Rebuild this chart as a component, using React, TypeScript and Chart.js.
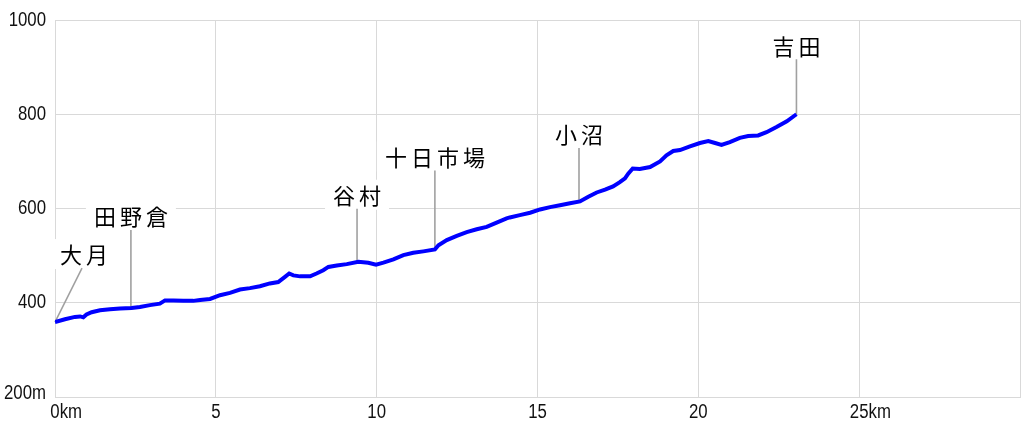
import React, { useEffect, useRef } from "react";
import { Chart, registerables } from "chart.js";

Chart.register(...registerables);

// Distance along route (km) and elevation (m)
const DIST_KM = [
  0, 0.31, 0.62, 0.78, 0.88, 0.98, 1.14, 1.4, 1.71, 2.02, 2.38, 2.64, 2.95, 3.26, 3.42, 3.68, 3.99, 4.3,
  4.51, 4.82, 5.13, 5.44, 5.75, 6.06, 6.37, 6.68, 6.94, 7.15, 7.28, 7.41, 7.62, 7.93, 8.13, 8.34, 8.5,
  8.76, 9.07, 9.43, 9.74, 9.98, 10.21, 10.52, 10.83, 11.14, 11.45, 11.81, 11.92, 12.18, 12.49, 12.8,
  13.11, 13.42, 13.73, 14.04, 14.14, 14.45, 14.77, 15.08, 15.39, 15.7, 16.01, 16.32, 16.58, 16.84,
  17.1, 17.35, 17.56, 17.72, 17.82, 17.96, 18.18, 18.5, 18.81, 19.01, 19.22, 19.43, 19.74, 20.05,
  20.31, 20.52, 20.72, 20.98, 21.29, 21.55, 21.86, 22.12, 22.43, 22.75, 23.05,
];
const ELEV_M = [
  359, 365, 370, 371, 369, 375, 380, 384, 386, 388, 389, 391, 395, 398, 405, 405, 404, 404,
  406, 408, 416, 421, 428, 431, 435, 441, 444, 455, 462, 458, 456, 456, 462, 469, 476,
  479, 482, 487, 485, 481, 485, 492, 501, 506, 509, 513, 522, 533, 542, 550,
  556, 561, 570, 579, 581, 586, 591, 598, 603, 607, 611, 615, 625, 634,
  640, 647, 656, 664, 674, 685, 684, 688, 700, 713, 722, 724, 732, 739,
  743, 739, 735, 741, 750, 754, 755, 762, 773, 785, 800,
];

// Station labels
const STATION_NAMES = ["大月", "田野倉", "谷村", "十日市場", "小沼", "吉田"];
const STATION_KM = [0, 2.36, 9.39, 11.81, 16.29, 23.05];
const STATION_ELEV = [359, 389, 487, 513, 616, 800];

// Axis ticks
const X_TICKS = [0, 5, 10, 15, 20, 25];
const X_TICK_LABELS = ["0", "5", "10", "15", "20", "25"];
const X_TICK_UNITS = ["km", "", "", "", "", "km"];
const Y_TICKS = [200, 400, 600, 800, 1000];
const Y_TICK_LABELS = ["200m", "400", "600", "800", "1000"];

// Leader line offsets (px) for each station label (style, not data)
const LEADER_DX = [27, 0, 0, 0, 0, 0];
const LEADER_DY = [-54, -78, -53, -79, -53, -55];

const GRID = "#d9d9d9";
const TICK_FONT = '20px "Liberation Sans", "DejaVu Sans", sans-serif';
const TICK_SQUEEZE = 0.84;
const LABEL_FONT = '22px "Noto Sans CJK JP", sans-serif';

function squeezedText(ctx: CanvasRenderingContext2D, text: string, x: number, y: number) {
  ctx.save();
  ctx.translate(x, y);
  ctx.scale(TICK_SQUEEZE, 1);
  ctx.fillText(text, 0, 0);
  ctx.restore();
}

export default function App() {
  const ref = useRef<HTMLCanvasElement | null>(null);

  useEffect(() => {
    const canvas = ref.current;
    if (!canvas) return;

    const overlay = {
      id: "overlay",
      beforeDatasetsDraw(chart: any) {
        const ctx = chart.ctx as CanvasRenderingContext2D;
        const xs = chart.scales.x;
        const ys = chart.scales.y;
        ctx.save();
        const pitch = 26;
        for (let i = 0; i < STATION_NAMES.length; i++) {
          const px = xs.getPixelForValue(STATION_KM[i]);
          const py = ys.getPixelForValue(STATION_ELEV[i]);
          const tx = px + LEADER_DX[i];
          const ty = py + LEADER_DY[i];
          const name = STATION_NAMES[i];
          const n = name.length;
          const cx = tx + (i === 0 ? 2 : 0);
          const cy = ty - 14;
          const w = (n - 1) * pitch + 22;
          ctx.fillStyle = "#ffffff";
          ctx.fillRect(cx - w / 2 - 8, cy - 15, w + 16, 30);
          ctx.strokeStyle = "#a0a0a0";
          ctx.lineWidth = 1.6;
          ctx.beginPath();
          ctx.moveTo(px, py);
          ctx.lineTo(tx, ty);
          ctx.stroke();
          ctx.font = LABEL_FONT;
          ctx.fillStyle = "#000";
          ctx.textAlign = "center";
          ctx.textBaseline = "middle";
          const start = cx - ((n - 1) * pitch) / 2;
          for (let k = 0; k < n; k++) {
            ctx.fillText(name[k], start + k * pitch, cy + 1);
          }
        }
        ctx.restore();
      },
      afterDraw(chart: any) {
        const ctx = chart.ctx as CanvasRenderingContext2D;
        const xs = chart.scales.x;
        const ys = chart.scales.y;
        ctx.save();
        ctx.font = TICK_FONT;
        ctx.fillStyle = "#111";
        ctx.textBaseline = "middle";
        ctx.textAlign = "left";
        const y = chart.chartArea.bottom + 15;
        for (let i = 0; i < X_TICKS.length; i++) {
          const px = xs.getPixelForValue(X_TICKS[i]);
          const lbl = X_TICK_LABELS[i];
          const w = ctx.measureText(lbl).width * TICK_SQUEEZE;
          squeezedText(ctx, lbl, px - w / 2, y);
          if (X_TICK_UNITS[i]) squeezedText(ctx, X_TICK_UNITS[i], px + w / 2, y);
        }
        const right = chart.chartArea.left - 9;
        for (let i = 0; i < Y_TICKS.length; i++) {
          const py = ys.getPixelForValue(Y_TICKS[i]) - (i === 0 ? 4 : 0);
          const lbl = Y_TICK_LABELS[i];
          const w = ctx.measureText(lbl).width * TICK_SQUEEZE;
          squeezedText(ctx, lbl, right - w, py);
        }
        ctx.restore();
      },
    };

    const chart = new Chart(canvas, {
      type: "line",
      data: {
        datasets: [
          {
            data: DIST_KM.map((d, i) => ({ x: d, y: ELEV_M[i] })),
            borderColor: "#0000ff",
            borderWidth: 4,
            pointRadius: 0,
            tension: 0,
            fill: false,
          },
        ],
      },
      options: {
        animation: false,
        responsive: false,
        devicePixelRatio: 1,
        layout: { padding: { top: 20, right: 4, left: 0, bottom: 0 } },
        plugins: { legend: { display: false }, tooltip: { enabled: false }, title: { display: false } },
        scales: {
          x: {
            type: "linear",
            min: 0,
            max: 30,
            ticks: { display: false, stepSize: 5 },
            grid: { color: GRID, lineWidth: 1, drawTicks: false },
            border: { color: GRID },
            afterFit: (s: any) => {
              s.height = 33;
            },
          },
          y: {
            type: "linear",
            min: 200,
            max: 1000,
            ticks: { display: false, stepSize: 200 },
            grid: { color: GRID, lineWidth: 1, drawTicks: false },
            border: { color: GRID },
            afterFit: (s: any) => {
              s.width = 55;
            },
          },
        },
      },
      plugins: [overlay],
    });

    return () => chart.destroy();
  }, []);

  return (
    <div style={{ position: "fixed", left: 0, top: 0, width: 1024, height: 430, background: "#fff" }}>
      <canvas ref={ref} width={1024} height={430} />
    </div>
  );
}
